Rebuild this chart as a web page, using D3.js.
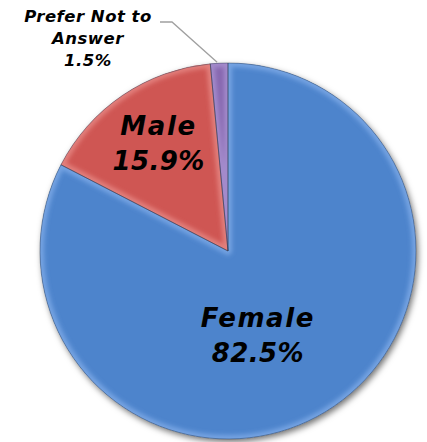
<!DOCTYPE html>
<html>
<head>
<meta charset="utf-8">
<script src="https://cdn.jsdelivr.net/npm/d3@7"></script>
<style>
  html, body { margin: 0; padding: 0; background: #fff; }
  svg { display: block; }
  .lbl { font-family: "DejaVu Sans", Verdana, sans-serif; font-weight: bold; font-style: italic; fill: #000; }
</style>
</head>
<body>
<svg id="chart" width="427" height="442"></svg>
<script>
// Survey responses by gender (percent)
const categories = ["Female", "Male", "Prefer Not to Answer"];
const values = [82.5, 15.9, 1.5];
const colors = ["#4d84cc", "#cf5753", "#8767b0"];
const edgeColors = ["#74a3e2", "#e27f7b", "#a38acb"];

const cx = 228, cy = 251, R = 188;

const svg = d3.select("#chart");
const defs = svg.append("defs");

const shadow = defs.append("filter").attr("id", "shadow")
  .attr("x", "-20%").attr("y", "-20%").attr("width", "140%").attr("height", "140%");
shadow.append("feDropShadow").attr("dx", 2).attr("dy", 3)
  .attr("stdDeviation", 3).attr("flood-color", "#000").attr("flood-opacity", 0.55);

const soft = defs.append("filter").attr("id", "soft");
soft.append("feGaussianBlur").attr("stdDeviation", 2.2);

const pie = d3.pie().sort(null).value(d => d);
const arcs = pie(values);
const arc = d3.arc().innerRadius(0).outerRadius(R);

const g = svg.append("g").attr("transform", `translate(${cx},${cy})`);

// base slices with shadow
const base = g.append("g").attr("filter", "url(#shadow)");
base.selectAll("path").data(arcs).join("path")
  .attr("d", arc)
  .attr("fill", (d, i) => colors[i]);

// bevel highlight along each slice edge
arcs.forEach((d, i) => {
  defs.append("clipPath").attr("id", "clip" + i)
    .append("path").attr("d", arc(d));
  g.append("path")
    .attr("d", arc(d))
    .attr("clip-path", `url(#clip${i})`)
    .attr("fill", "none")
    .attr("stroke", edgeColors[i])
    .attr("stroke-width", 8)
    .attr("stroke-linejoin", "round")
    .attr("filter", "url(#soft)");
});

// thin dark outline
g.append("g").selectAll("path").data(arcs).join("path")
  .attr("d", arc)
  .attr("fill", "none")
  .attr("stroke", "#2b3b55")
  .attr("stroke-opacity", 0.55)
  .attr("stroke-width", 0.8)
  .attr("stroke-linejoin", "round");

// large in-slice labels: placed along each slice's bisector
const labelPlace = [
  { angleShift: 0.19, r: 0.455, lift: 0 },
  { angleShift: 0, r: 0.66, lift: -9 }
];
[0, 1].forEach(i => {
  const p = labelPlace[i];
  const a = (arcs[i].startAngle + arcs[i].endAngle) / 2 + p.angleShift;
  const rr = R * p.r;
  const x = Math.sin(a) * rr, y = -Math.cos(a) * rr + p.lift;
  const t = g.append("text").attr("class", "lbl")
    .attr("text-anchor", "middle")
    .attr("font-size", 26);
  t.append("tspan").attr("x", x).attr("y", y - 4)
    .attr("letter-spacing", 1.6).text(categories[i]);
  t.append("tspan").attr("x", x).attr("y", y + 31)
    .attr("letter-spacing", 0.4).text(values[i].toFixed(1) + "%");
});

// outside label with leader line for the small slice
const s = arcs[2];
const am = (s.startAngle + s.endAngle) / 2;
const px = Math.sin(am) * R, py = -Math.cos(am) * R;
const lx = 160 - cx, ly = 22 - cy;
g.append("polyline")
  .attr("points", [[lx, ly], [lx + 12, ly], [px - 2, py - 1]].map(p => p.join(",")).join(" "))
  .attr("fill", "none").attr("stroke", "#a0a0a0").attr("stroke-width", 1.3);

const ot = svg.append("text").attr("class", "lbl")
  .attr("text-anchor", "middle").attr("font-size", 16.5)
  .attr("letter-spacing", 0.5);
const otx = 88;
["Prefer Not to", "Answer", values[2].toFixed(1) + "%"].forEach((line, k) => {
  ot.append("tspan").attr("x", otx).attr("y", 22 + k * 22).text(line);
});
</script>
</body>
</html>
